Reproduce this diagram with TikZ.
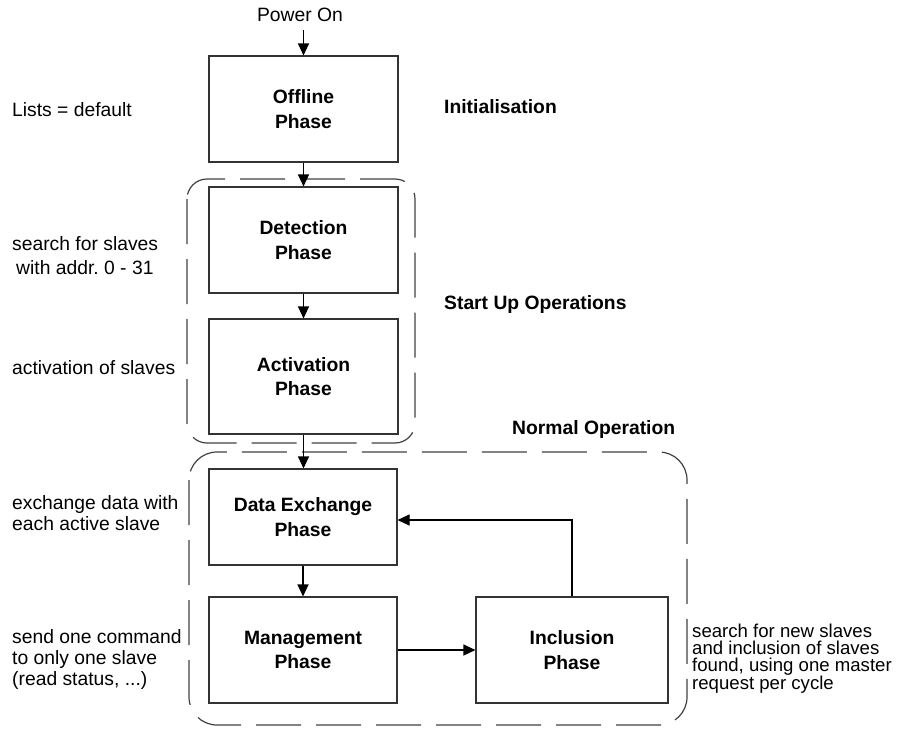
\documentclass[tikz,border=0pt]{standalone}
\usepackage{fontspec}
\setmainfont{Liberation Sans}[Ligatures=NoCommon]
\usetikzlibrary{arrows.meta}
\frenchspacing
\begin{document}
\begin{tikzpicture}[x=1pt,y=-1pt,
  every node/.style={font=\fontsize{19.3pt}{24pt}\selectfont, inner sep=0pt},
  phasebox/.style={draw=black!80, line width=1.1pt, align=center,
     font=\fontsize{19.3pt}{24.5pt}\selectfont\bfseries},
  arr/.style={draw=black, line width=1.1pt, -{Triangle[length=12pt,width=11pt]}},
  grp/.style={draw=black!75, line width=1.2pt, dash pattern=on 45pt off 15pt},
  note/.style={anchor=west, align=left},
  title/.style={anchor=west, font=\fontsize{19.3pt}{24pt}\selectfont\bfseries}]
\useasboundingbox (0,0) rectangle (918,729);

% group frames
\draw[grp, rounded corners=20pt] (187,179) rectangle (415,443);
\draw[grp, rounded corners=28pt] (189,452) rectangle (687,725);

% phase boxes
\node[phasebox, minimum width=189pt, minimum height=106pt] (off) at (303.5,109) {Offline\\Phase};
\node[phasebox, minimum width=189pt, minimum height=106pt] (det) at (303.5,240) {Detection\\Phase};
\node[phasebox, minimum width=189pt, minimum height=115pt] (act) at (303.5,376.5) {Activation\\Phase};
\node[phasebox, minimum width=188pt, minimum height=96pt] (dex) at (303,517) {Data Exchange\\Phase};
\node[phasebox, minimum width=188pt, minimum height=106pt] (mgt) at (303,650) {Management\\Phase};
\node[phasebox, minimum width=192pt, minimum height=106pt] (inc) at (572,650) {Inclusion\\Phase};

% start label
\node (pw) at (300,15) {Power On};
\coordinate (pwa) at (303.5,30);

% connectors
\draw[arr] (pwa) -- (off.north);
\draw[arr] (off.south) -- (det.north);
\draw[arr] (det.south) -- (act.north);
\draw[arr] (act.south) -- (act.south |- dex.north);
\draw[arr] (dex.south) -- (mgt.north);
\draw[arr] (mgt.east) -- (inc.west);
\draw[arr] (inc.north) |- ([yshift=-3pt]dex.east);

% group titles
\node[title] (tinit) at (444,107) {Initialisation};
\node[title] (tstart) at (444,305) {Start Up Operations};
\node[title] (tnorm) at (512,430) {Normal Operation};

% notes
\node[note] (n1) at (12,110) {Lists = default};
\node[note, font=\fontsize{19.3pt}{24pt}\selectfont] (n2) at (12,256) {search for slaves\\\hspace*{4pt}with addr. 0 - 31};
\node[note] (n3) at (12,368) {activation of slaves};
\node[note, font=\fontsize{19.3pt}{21pt}\selectfont] (n4) at (12,513) {exchange data with\\each active slave};
\node[note, font=\fontsize{19.3pt}{21pt}\selectfont] (n5) at (12,659) {send one command\\to only one slave\\(read status, ...)};
\node[note, font=\fontsize{18.6pt}{17pt}\selectfont] (n6) at (692,659) {search for new slaves\\and inclusion of slaves\\found, using one master\\request per cycle};
\end{tikzpicture}
\end{document}
